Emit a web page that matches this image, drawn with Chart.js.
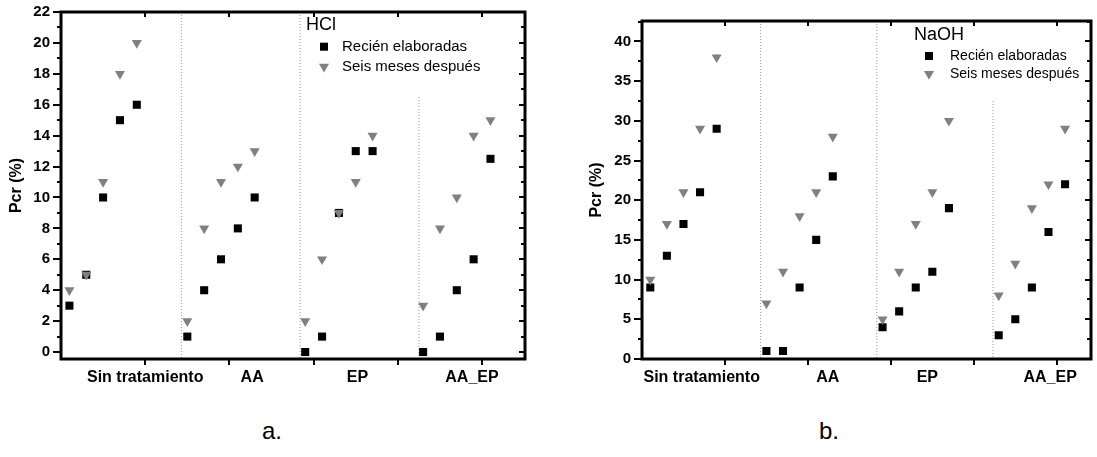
<!DOCTYPE html>
<html>
<head>
<meta charset="utf-8">
<script src="https://cdn.jsdelivr.net/npm/chart.js@4/dist/chart.umd.min.js"></script>
<style>
  body { margin: 0; background: #fff; }
  #wrap { position: relative; width: 1097px; height: 457px; }
  canvas { position: absolute; top: 0; }
  .cap { position: absolute; top: 417px; font: 24px "Liberation Sans", Arial, sans-serif; color: #000; }
</style>
</head>
<body>
<div id="wrap">
  <canvas id="hcl" width="548" height="400" style="left:0"></canvas>
  <canvas id="naoh" width="549" height="400" style="left:548px"></canvas>
  <div class="cap" style="left:262px">a.</div>
  <div class="cap" style="left:819px">b.</div>
</div>
<script>
const groups = ["Sin tratamiento", "AA", "EP", "AA_EP"];

// 5 muestras por grupo, en el orden de groups
const hclFresh = [3, 5, 10, 15, 16,  1, 4, 6, 8, 10,  0, 1, 9, 13, 13,  0, 1, 4, 6, 12.5];
const hclSix   = [4, 5, 11, 18, 20,  2, 8, 11, 12, 13,  2, 6, 9, 11, 14,  3, 8, 10, 14, 15];
const naohFresh = [9, 13, 17, 21, 29,  1, 1, 9, 15, 23,  4, 6, 9, 11, 19,  3, 5, 9, 16, 22];
const naohSix   = [10, 17, 21, 29, 38,  7, 11, 18, 21, 28,  5, 11, 17, 21, 30,  8, 12, 19, 22, 29];

const hclTicks = [0, 2, 4, 6, 8, 10, 12, 14, 16, 18, 20, 22];
const naohTicks = [0, 5, 10, 15, 20, 25, 30, 35, 40];

Chart.defaults.font.family = '"Liberation Sans", Arial, sans-serif';
Chart.defaults.color = "#000";

const GRAY = "#808080";
const groupStart = [0.1, 1.5, 2.9, 4.3];

function xy(vals) {
    return vals.map((v, i) => ({ x: groupStart[Math.floor(i / 5)] + 0.2 * (i % 5), y: v }));
}

const frame = {
    id: "frame",
    afterDraw(chart, args, o) {
        const { ctx, chartArea: a, scales: { x, y } } = chart;
        const L = Math.round(a.left), R = Math.round(a.right), T = Math.round(a.top), B = Math.round(a.bottom);
        ctx.save();
        ctx.setLineDash([]);
        ctx.globalAlpha = 1;
        ctx.strokeStyle = "#000000";
        ctx.lineWidth = 3;
        ctx.beginPath();
        ctx.rect(L, T, R - L, B - T);
        ctx.stroke();
        ctx.lineWidth = 2;
        ctx.beginPath();
        for (let v = 1; v < x.max; v++) {
            const px = Math.round(x.getPixelForValue(v));
            ctx.moveTo(px, B); ctx.lineTo(px, B + 6);
            ctx.moveTo(px, T); ctx.lineTo(px, T + 5);
        }
        for (let v = 0; v <= y.max + 1e-6; v += o.minor) {
            const py = Math.round(y.getPixelForValue(v));
            const r = v / o.major;
            const major = Math.abs(r - Math.round(r)) < 1e-6;
            if (!major) { ctx.moveTo(L - 4, py); ctx.lineTo(L, py); }
            ctx.moveTo(R, py); ctx.lineTo(R - (major ? 6 : 4), py);
        }
        ctx.stroke();
        ctx.restore();
    }
};

const legendBox = {
    id: "legendBox",
    afterDraw(chart, args, o) {
        const ctx = chart.ctx;
        ctx.save();
        ctx.textBaseline = "middle";
        ctx.fillStyle = "#000";
        ctx.font = "18px " + Chart.defaults.font.family;
        ctx.fillText(o.title, o.x, o.y);
        ctx.font = o.size + "px " + Chart.defaults.font.family;
        [1, 0].forEach((di, i) => {
            const d = chart.data.datasets[di];
            const yy = o.y + o.first + i * o.step;
            ctx.fillStyle = d.backgroundColor;
            ctx.strokeStyle = d.borderColor;
            Chart.helpers.drawPoint(ctx, { pointStyle: d.pointStyle, rotation: d.pointRotation || 0, radius: d.pointRadius, borderWidth: 0 }, o.mx, yy);
            ctx.fillStyle = "#000";
            ctx.fillText(d.label, o.tx, yy);
        });
        ctx.restore();
    }
};

function panel(id, o) {
    const seps = o.seps.map((s, i) => ({
        type: "line",
        data: [{ x: s, y: o.sepTop[i] }, { x: s, y: o.yMin }],
        borderColor: "#999",
        borderWidth: 1,
        borderDash: [1, 2],
        pointRadius: 0,
        showLine: true
    }));
    return new Chart(document.getElementById(id), {
        type: "scatter",
        data: {
            datasets: [
                { label: "Seis meses después", data: xy(o.six), pointStyle: "triangle", pointRotation: 180,
                  pointRadius: 5.8, pointHoverRadius: 5.8, backgroundColor: GRAY, borderColor: GRAY, borderWidth: 0 },
                { label: "Recién elaboradas", data: xy(o.fresh), pointStyle: "rect",
                  pointRadius: 5.7, pointHoverRadius: 5.7, backgroundColor: "#000", borderColor: "#000", borderWidth: 0 },
                ...seps
            ]
        },
        options: {
            responsive: false,
            animation: false,
            devicePixelRatio: 1,
            layout: { padding: o.pad },
            plugins: {
                legend: { display: false },
                tooltip: { enabled: false },
                frame: { major: o.major, minor: o.minor },
                legendBox: o.legend
            },
            scales: {
                x: {
                    type: "linear",
                    min: 0,
                    max: o.xMax,
                    afterBuildTicks: s => { s.ticks = o.labelAt.map(v => ({ value: v })); },
                    ticks: {
                        callback: (v, i) => groups[i],
                        autoSkip: false,
                        maxRotation: 0,
                        padding: 9,
                        font: { size: 16, weight: "bold" }
                    },
                    grid: { display: false, drawTicks: false },
                    border: { display: false },
                    afterFit: s => { s.height = 41; }
                },
                y: {
                    min: o.yMin,
                    max: o.yMax,
                    afterBuildTicks: s => { s.ticks = o.ticks.map(v => ({ value: v })); },
                    ticks: { padding: o.tickPad, font: { size: 15, weight: "bold" } },
                    grid: { drawOnChartArea: false, tickLength: 8, color: "#000", lineWidth: 2 },
                    border: { display: false },
                    title: { display: true, text: "Pcr (%)", font: { size: 16, weight: "bold" }, padding: { top: o.titlePad, bottom: 0 } },
                    afterFit: s => { s.width = o.yWidth; }
                }
            }
        },
        plugins: [frame, legendBox]
    });
}

panel("hcl", {
    fresh: hclFresh, six: hclSix, ticks: hclTicks,
    yMin: -0.45, yMax: 22, xMax: 5.51, major: 2, minor: 1,
    seps: [1.43, 2.84, 4.25], sepTop: [22, 22, 16.5],
    labelAt: [1.0, 2.27, 3.52, 4.88],
    pad: { top: 11, right: 23, left: 0, bottom: 0 },
    yWidth: 61, tickPad: 3, titlePad: 7,
    legend: { title: "HCl", x: 306, y: 25, first: 21.7, step: 20, mx: 324, tx: 342, size: 15 }
});

panel("naoh", {
    fresh: naohFresh, six: naohSix, ticks: naohTicks,
    yMin: 0, yMax: 42.57, xMax: 5.415, major: 5, minor: 2.5,
    seps: [1.43, 2.83, 4.23], sepTop: [42.57, 42.57, 32.5],
    labelAt: [0.72, 2.24, 3.44, 4.92],
    pad: { top: 21, right: 2, left: 0, bottom: 0 },
    yWidth: 94, tickPad: 3, titlePad: 39,
    legend: { title: "NaOH", x: 366, y: 35.5, first: 20.5, step: 18, mx: 381, tx: 402, size: 14 }
});
</script>
</body>
</html>
